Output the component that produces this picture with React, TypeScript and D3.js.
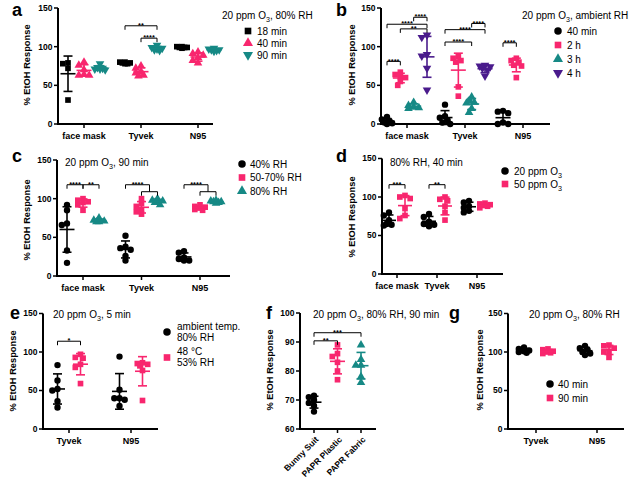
import React from "react";
import * as d3 from "d3";

const FONT = "'Liberation Sans', Arial, Helvetica, sans-serif";
const BLACK = "#000000";
const PINK = "#f8266e";
const TEAL = "#168985";
const PURPLE = "#4a1b8c";

// ---------------- data ----------------
// a
const aCategories = ["face mask", "Tyvek", "N95"];
const aSeries = ["18 min", "40 min", "90 min"];
const aValues = [
  [[79, 78, 72, 31], [80, 76, 70, 64, 63, 63], [78, 73, 71, 71, 70, 72]],
  [[80, 79, 79, 78, 78, 80], [75, 72, 68, 66, 63, 62], [102, 99, 97, 96, 98, 95]],
  [[99, 100, 99, 98, 99, 100], [93, 91, 89, 86, 82, 79], [98, 97, 96, 95, 94, 96]],
];
const aBrackets = [
  { c: 1, s1: 0, s2: 2, v: 127, label: "**" },
  { c: 1, s1: 1, s2: 2, v: 111, label: "****" },
];

// b
const bCategories = ["face mask", "Tyvek", "N95"];
const bSeries = ["40 min", "2 h", "3 h", "4 h"];
const bValues = [
  [[9, 6, 4, 2, 1, 0], [67, 64, 61, 60, 55, 50], [28, 24, 22, 20, 21], [115, 112, 90, 88, 72, 44]],
  [[25, 10, 8, 5, 2, 0], [87, 85, 82, 80, 48, 36], [35, 30, 27, 20, 15, 28], [76, 75, 74, 72, 70, 62]],
  [[17, 16, 14, 2, 0, 0], [85, 82, 80, 76, 75, 60], [], []],
];
const bBrackets = [
  { c: 0, s1: 2, s2: 3, v: 138, label: "****" },
  { c: 0, s1: 0, s2: 3, v: 129, label: "****" },
  { c: 0, s1: 1, s2: 3, v: 123, label: "**" },
  { c: 0, s1: 0, s2: 1, v: 81, label: "****" },
  { c: 1, s1: 2, s2: 3, v: 130, label: "****" },
  { c: 1, s1: 0, s2: 3, v: 122, label: "****" },
  { c: 1, s1: 0, s2: 2, v: 106, label: "****" },
  { c: 2, s1: 0, s2: 1, v: 105, label: "****" },
];

// c
const cCategories = ["face mask", "Tyvek", "N95"];
const cSeries = ["40% RH", "50-70% RH", "80% RH"];
const cValues = [
  [[92, 85, 68, 66, 33, 17], [100, 98, 96, 95, 92, 85], [75, 72, 70, 70, 71]],
  [[52, 38, 36, 34, 26, 20], [100, 94, 90, 86, 83, 80], [100, 98, 97, 96, 95, 92]],
  [[32, 30, 24, 20, 20, 22], [92, 90, 88, 86, 85, 89], [98, 97, 96, 95, 94, 96]],
];
const cBrackets = [
  { c: 0, s1: 0, s2: 1, v: 118, label: "****" },
  { c: 0, s1: 1, s2: 2, v: 118, label: "**" },
  { c: 1, s1: 0, s2: 1, v: 118, label: "****", group: [1, 2], gv: 109 },
  { c: 2, s1: 0, s2: 1, v: 118, label: "****", group: [1, 2], gv: 109 },
];

// d
const dCategories = ["face mask", "Tyvek", "N95"];
const dSeries = ["20 ppm O3", "50 ppm O3"];
const dValues = [
  [[80, 76, 70, 65, 64, 63], [102, 100, 98, 85, 76, 72]],
  [[78, 74, 68, 65, 64, 62], [100, 97, 95, 88, 80, 70]],
  [[95, 93, 88, 86, 82, 80], [92, 91, 90, 89, 88, 86]],
];
const dBrackets = [
  { c: 0, s1: 0, s2: 1, v: 116, label: "***" },
  { c: 1, s1: 0, s2: 1, v: 116, label: "**" },
];

// e
const eCategories = ["Tyvek", "N95"];
const eSeries = ["ambient temp.\n80% RH", "48 °C\n53% RH"];
const eValues = [
  [[83, 63, 52, 50, 36, 28], [97, 93, 92, 84, 80, 59]],
  [[94, 51, 40, 38, 40, 30], [86, 85, 84, 82, 76, 37]],
];
const eBrackets = [{ c: 0, s1: 0, s2: 1, v: 114, label: "*" }];

// f
const fCategories = ["Bunny Suit", "PAPR Plastic", "PAPR Fabric"];
const fSeries = ["Bunny Suit", "PAPR Plastic", "PAPR Fabric"];
const fValues = [
  [[71.5, 71, 70, 69, 68, 66], [], []],
  [[], [89, 86, 85, 83, 80, 77], []],
  [[], [], [89, 84, 82, 82, 78, 76]],
];
const fBrackets = [
  { c: 0, s1: 0, s2: 0, c2: 1, v: 90.4, label: "**" },
  { c: 0, s1: 0, s2: 0, c2: 2, v: 93.2, label: "***" },
];

// g
const gCategories = ["Tyvek", "N95"];
const gSeries = ["40 min", "90 min"];
const gValues = [
  [[106, 104, 102, 101, 100, 99], [104, 103, 101, 100, 99, 98]],
  [[108, 105, 103, 100, 98, 96], [109, 108, 105, 101, 100, 93]],
];

const ticks150 = [0, 50, 100, 150];
const ticksF = [60, 70, 80, 90, 100];

// ---------------- helpers ----------------
type Shape = "square" | "circle" | "tri" | "tridown";

function symPath(shape: Shape, size: number) {
  const t = shape === "square" ? d3.symbolSquare : shape === "circle" ? d3.symbolCircle : d3.symbolTriangle;
  return d3.symbol().type(t).size(size)() || "";
}

function Sym({ shape, x, y, color, size }: { shape: Shape; x: number; y: number; color: string; size: number }) {
  const rot = shape === "tridown" ? " rotate(180)" : "";
  return <path d={symPath(shape, size)} transform={`translate(${x},${y})${rot}`} fill={color} />;
}

function RichText({ x, y, text, size, weight = "normal", anchor = "start", lh = 11 }: any) {
  const lines = String(text).split("\n");
  return (
    <text x={x} y={y} fontSize={size} fontWeight={weight} textAnchor={anchor} fontFamily={FONT} fill={BLACK}>
      {lines.map((line, li) => {
        const parts = line.split(/(O3)/).filter((p) => p !== "");
        const out: any[] = [];
        let lowered = false;
        parts.forEach((p, pi) => {
          const props: any = {};
          if (pi === 0) {
            props.x = x;
            props.dy = li === 0 ? 0 : lh;
          }
          if (p === "O3") {
            if (lowered) props.dy = (props.dy || 0) - size * 0.3;
            out.push(<tspan key={`${li}-${pi}-o`} {...props}>O</tspan>);
            out.push(<tspan key={`${li}-${pi}-3`} dy={size * 0.3} fontSize={size * 0.72}>3</tspan>);
            lowered = true;
          } else {
            if (lowered) props.dy = (props.dy || 0) - size * 0.3;
            out.push(<tspan key={`${li}-${pi}`} {...props}>{p}</tspan>);
            lowered = false;
          }
        });
        return out;
      })}
    </text>
  );
}

function beeswarm(vals: number[], y: (v: number) => number, d: number, r: number) {
  const sorted = [...vals].sort((a, b) => b - a);
  const placed: { x: number; y: number; v: number }[] = [];
  const offs = [0, -1, 1, -2, 2];
  sorted.forEach((v) => {
    const py = y(v);
    let best = 0;
    let bestDist = -1;
    for (const o of offs) {
      const ox = o * d;
      const dist = placed.length ? Math.min(...placed.map((p) => Math.hypot(p.x - ox, p.y - py))) : Infinity;
      if (dist >= r) {
        best = ox;
        bestDist = dist;
        break;
      }
      if (dist > bestDist) {
        bestDist = dist;
        best = ox;
      }
    }
    placed.push({ x: best, y: py, v });
  });
  return placed;
}

interface PanelCfg {
  letter: string;
  letterPos: [number, number];
  ox: number;
  y0: number;
  yTop: number;
  xEnd: number;
  domain: [number, number];
  ticks: number[];
  categories: string[];
  series: string[];
  colors: string[];
  shapes: Shape[];
  values: number[][][];
  catRange: [number, number];
  spread: number;
  brackets: any[];
  title: string;
  titlePos: [number, number];
  legend?: { x: number; y: number; dy: number; tx: number; lh?: number; multi?: boolean };
  ylabel: [number, number];
  rotateLabels?: boolean;
  meanHW?: number;
}

function Panel({ cfg }: { cfg: PanelCfg }) {
  const y = d3.scaleLinear().domain(cfg.domain).range([cfg.y0, cfg.yTop]);
  const xc = d3.scalePoint<number>().domain(d3.range(cfg.categories.length)).range(cfg.catRange);
  const xs = d3.scalePoint<number>().domain(d3.range(cfg.series.length)).range([-cfg.spread / 2, cfg.spread / 2]);
  const px = (c: number, s: number) => (xc(c) ?? 0) + (cfg.spread === 0 ? 0 : xs(s) ?? 0);
  const meanHW = cfg.meanHW ?? 7.5;
  const capHW = 4.5;

  const marks: any[] = [];
  cfg.values.forEach((cell, ci) => {
    cell.forEach((vals, si) => {
      if (!vals || vals.length === 0) return;
      const cx = px(ci, si);
      const color = cfg.colors[si];
      const shape = cfg.shapes[si];
      const pts = beeswarm(vals, y, 2.6, 4.2);
      pts.forEach((p, i) => {
        marks.push(<Sym key={`p${ci}-${si}-${i}`} shape={shape} x={cx + p.x} y={p.y} color={color} size={32} />);
      });
      const m = d3.mean(vals) as number;
      const sd = (d3.deviation(vals) as number) || 0;
      const ym = y(m), yhi = y(m + sd), ylo = y(m - sd);
      marks.push(
        <g key={`e${ci}-${si}`} stroke={color} strokeWidth={1.6} fill="none">
          <line x1={cx} x2={cx} y1={yhi} y2={ylo} />
          <line x1={cx - meanHW} x2={cx + meanHW} y1={ym} y2={ym} />
          <line x1={cx - capHW} x2={cx + capHW} y1={yhi} y2={yhi} />
          <line x1={cx - capHW} x2={cx + capHW} y1={ylo} y2={ylo} />
        </g>
      );
    });
  });

  const brackets = cfg.brackets.map((b, i) => {
    const x1 = px(b.c, b.s1);
    const yv = y(b.v);
    let x2: number;
    let endY = yv + 4;
    const extra: any[] = [];
    if (b.group) {
      const gx1 = px(b.c, b.group[0]);
      const gx2 = px(b.c, b.group[1]);
      const gy = y(b.gv);
      extra.push(<path key="g" d={`M${gx1},${gy + 4}V${gy}H${gx2}V${gy + 4}`} />);
      x2 = (gx1 + gx2) / 2;
      endY = gy;
    } else if (b.c2 !== undefined) {
      x2 = px(b.c2, b.c2);
    } else {
      x2 = px(b.c, b.s2);
    }
    return (
      <g key={`b${i}`}>
        <g stroke={BLACK} strokeWidth={1} fill="none">
          <path d={`M${x1},${yv + 4}V${yv}H${x2}V${endY}`} />
          {extra}
        </g>
        <text x={(x1 + x2) / 2} y={yv + 2.2} fontSize={7.5} fontWeight="bold" textAnchor="middle" fontFamily={FONT}>
          {b.label}
        </text>
      </g>
    );
  });

  return (
    <g>
      <text x={cfg.letterPos[0]} y={cfg.letterPos[1]} fontSize={18} fontWeight="bold" fontFamily={FONT}>
        {cfg.letter}
      </text>
      <g stroke={BLACK} strokeWidth={2} fill="none">
        <line x1={cfg.ox} x2={cfg.ox} y1={cfg.y0 + 1} y2={y(cfg.domain[1])} />
        <line x1={cfg.ox - 1} x2={cfg.xEnd} y1={cfg.y0} y2={cfg.y0} />
      </g>
      {cfg.ticks.map((t) => (
        <g key={`t${t}`}>
          <line x1={cfg.ox - 4} x2={cfg.ox} y1={y(t)} y2={y(t)} stroke={BLACK} strokeWidth={1.5} />
          <text x={cfg.ox - 5.5} y={y(t)} dy="0.35em" fontSize={8.5} fontWeight="bold" textAnchor="end" fontFamily={FONT}>
            {t}
          </text>
        </g>
      ))}
      {cfg.categories.map((c, ci) => {
        const x = xc(ci) ?? 0;
        return (
          <g key={`c${ci}`}>
            <line x1={x} x2={x} y1={cfg.y0} y2={cfg.y0 + 4} stroke={BLACK} strokeWidth={1.5} />
            {cfg.rotateLabels ? (
              <text
                transform={`translate(${x + 3},${cfg.y0 + 9}) rotate(-45)`}
                fontSize={8.5}
                fontWeight="bold"
                textAnchor="end"
                dy="0.35em"
                fontFamily={FONT}
              >
                {c}
              </text>
            ) : (
              <text x={x} y={cfg.y0 + 15} fontSize={9} fontWeight="bold" textAnchor="middle" fontFamily={FONT}>
                {c}
              </text>
            )}
          </g>
        );
      })}
      <text
        transform={`translate(${cfg.ylabel[0]},${cfg.ylabel[1]}) rotate(-90)`}
        fontSize={9.3}
        fontWeight="bold"
        textAnchor="middle"
        dy="0.35em"
        fontFamily={FONT}
      >
        % EtOH Response
      </text>
      {marks}
      {brackets}
      <RichText x={cfg.titlePos[0]} y={cfg.titlePos[1]} text={cfg.title} size={10} />
      {cfg.legend &&
        cfg.series.map((s, si) => {
          const L = cfg.legend!;
          const ry = L.y + si * L.dy;
          return (
            <g key={`l${si}`}>
              <Sym shape={cfg.shapes[si]} x={L.x} y={ry} color={cfg.colors[si]} size={44} />
              <RichText x={L.tx} y={L.multi ? ry - 2.5 : ry + 3.6} text={s} size={10} lh={L.lh ?? 11} />
            </g>
          );
        })}
    </g>
  );
}

// ---------------- panel layouts ----------------
const panels: PanelCfg[] = [
  {
    letter: "a", letterPos: [12, 16], ox: 58, y0: 124, yTop: 8, xEnd: 213, domain: [0, 150], ticks: ticks150,
    categories: aCategories, series: aSeries, colors: [BLACK, PINK, TEAL], shapes: ["square", "tri", "tridown"],
    values: aValues, catRange: [84, 198], spread: 32, brackets: aBrackets,
    title: "20 ppm O3, 80% RH", titlePos: [222, 19],
    legend: { x: 248, y: 31, dy: 12, tx: 257 }, ylabel: [27, 65],
  },
  {
    letter: "b", letterPos: [336, 16], ox: 381, y0: 124, yTop: 8, xEnd: 550, domain: [0, 150], ticks: ticks150,
    categories: bCategories, series: bSeries, colors: [BLACK, PINK, TEAL, PURPLE], shapes: ["circle", "square", "tri", "tridown"],
    values: bValues, catRange: [407, 523], spread: 40, brackets: bBrackets,
    title: "20 ppm O3, ambient RH", titlePos: [522, 19],
    legend: { x: 558, y: 31, dy: 14, tx: 567 }, ylabel: [352, 65],
  },
  {
    letter: "c", letterPos: [12, 162], ox: 57, y0: 276, yTop: 160, xEnd: 230, domain: [0, 150], ticks: ticks150,
    categories: cCategories, series: cSeries, colors: [BLACK, PINK, TEAL], shapes: ["circle", "square", "tri"],
    values: cValues, catRange: [83, 200], spread: 32, brackets: cBrackets,
    title: "20 ppm O3, 90 min", titlePos: [65, 166],
    legend: { x: 242, y: 164, dy: 13.5, tx: 250 }, ylabel: [27, 220],
  },
  {
    letter: "d", letterPos: [336, 162], ox: 382, y0: 274, yTop: 158.5, xEnd: 503, domain: [0, 150], ticks: ticks150,
    categories: dCategories, series: dSeries, colors: [BLACK, PINK], shapes: ["circle", "square"],
    values: dValues, catRange: [397, 477], spread: 16, brackets: dBrackets,
    title: "80% RH, 40 min", titlePos: [390, 166],
    legend: { x: 505, y: 171, dy: 13, tx: 514 }, ylabel: [352, 217], meanHW: 7,
  },
  {
    letter: "e", letterPos: [10, 319], ox: 43, y0: 429, yTop: 313.5, xEnd: 158, domain: [0, 150], ticks: ticks150,
    categories: eCategories, series: eSeries, colors: [BLACK, PINK], shapes: ["circle", "square"],
    values: eValues, catRange: [69, 131], spread: 23, brackets: eBrackets,
    title: "20 ppm O3, 5 min", titlePos: [53, 318],
    legend: { x: 167, y: 332, dy: 25.5, tx: 177, lh: 11, multi: true }, ylabel: [13, 371],
  },
  {
    letter: "f", letterPos: [266, 319], ox: 300, y0: 429, yTop: 313, xEnd: 376, domain: [60, 100], ticks: ticksF,
    categories: fCategories, series: fSeries, colors: [BLACK, PINK, TEAL], shapes: ["circle", "square", "tri"],
    values: fValues, catRange: [314, 361], spread: 0, brackets: fBrackets,
    title: "20 ppm O3, 80% RH, 90 min", titlePos: [313, 318], ylabel: [270, 370], rotateLabels: true,
  },
  {
    letter: "g", letterPos: [449, 319], ox: 508, y0: 429, yTop: 313.5, xEnd: 624, domain: [0, 150], ticks: ticks150,
    categories: gCategories, series: gSeries, colors: [BLACK, PINK], shapes: ["circle", "square"],
    values: gValues, catRange: [536, 597], spread: 24, brackets: [],
    title: "20 ppm O3, 80% RH", titlePos: [529, 318],
    legend: { x: 550, y: 384, dy: 14, tx: 558 }, ylabel: [480, 370],
  },
];

export default function App() {
  return (
    <div style={{ position: "absolute", left: 0, top: 0 }}>
      <svg width={629} height={485} viewBox="0 0 629 485" style={{ display: "block", background: "#fff" }}>
        <rect width={629} height={485} fill="#fff" />
        {panels.map((p) => (
          <Panel key={p.letter} cfg={p} />
        ))}
      </svg>
    </div>
  );
}
